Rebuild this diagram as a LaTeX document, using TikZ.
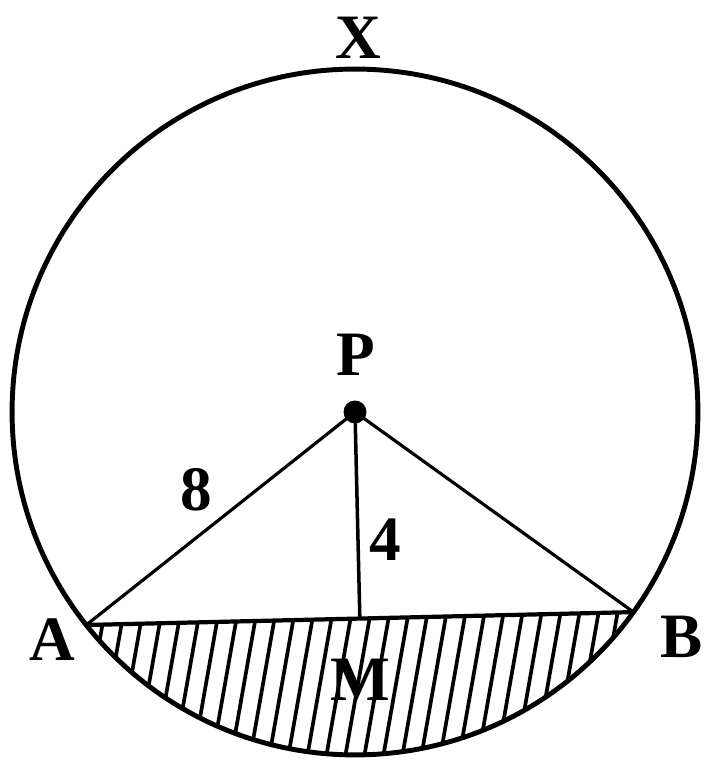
\documentclass[tikz,border=0pt]{standalone}
\usepackage{fontspec}
\setmainfont{Liberation Serif}
\usepackage{tikz}
\usetikzlibrary{calc}

\begin{document}
\begin{tikzpicture}[
  x=0.02cm,y=0.02cm,
  font=\fontsize{36}{42}\selectfont\bfseries,
  rim/.style={line width=2.8pt},
  side/.style={line width=1.8pt},
  chord/.style={line width=2.4pt},
  hatch/.style={line width=2.1pt},
  lbl/.style={inner sep=0pt}
]
\useasboundingbox (0,0) rectangle (706,769);
\coordinate (P) at (355,357);
\coordinate (A) at ($(P)+(218.4:6.86cm)$);
\coordinate (B) at ($(P)+(324.3:6.86cm)$);
\coordinate (M) at ($(A)!(P)!(B)$);
% shaded segment under the chord
\begin{scope}
  \clip (A) arc[start angle=218.4,end angle=324.3,radius=6.86cm] -- cycle;
  \foreach \k in {0,...,36}
    \draw[hatch] (20+19*\k,0) -- ++(80:3.8cm);
\end{scope}
\draw[rim] (P) circle[radius=6.86cm];
\draw[chord] (A) -- (B);
\draw[side] (P) -- (A);
\draw[side] (P) -- (B);
\draw[line width=2pt] (P) -- (M);
\fill (P) circle[radius=0.23cm];
\node[lbl] (x) at (358,731) {X};
\node[lbl] (p) at (356,414) {P};
\node[lbl] (a) at (52,129) {A};
\node[lbl] (b) at (682,132) {B};
\node[lbl] (m) at (360,89) {M};
\node[lbl] (pa) at (196,279) {8};
\node[lbl] (pm) at (385,229) {4};
\end{tikzpicture}
\end{document}
